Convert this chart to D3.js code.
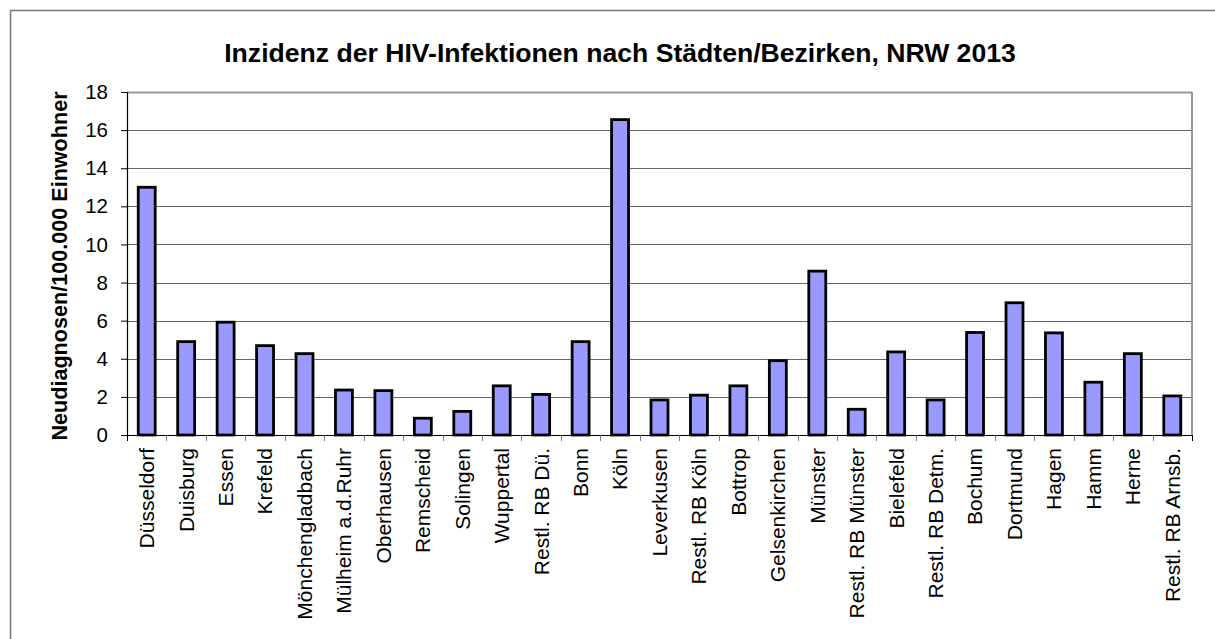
<!DOCTYPE html>
<html>
<head>
<meta charset="utf-8">
<script src="https://cdn.jsdelivr.net/npm/d3@7"></script>
<style>
  body { margin: 0; background: #fff; }
  svg { display: block; font-family: "Liberation Sans", Arial, sans-serif; }
</style>
</head>
<body>
<div id="chart"></div>
<script>
const cities = ["Düsseldorf", "Duisburg", "Essen", "Krefeld", "Mönchengladbach", "Mülheim a.d.Ruhr",
  "Oberhausen", "Remscheid", "Solingen", "Wuppertal", "Restl. RB Dü.", "Bonn", "Köln", "Leverkusen",
  "Restl. RB Köln", "Bottrop", "Gelsenkirchen", "Münster", "Restl. RB Münster", "Bielefeld",
  "Restl. RB Detm.", "Bochum", "Dortmund", "Hagen", "Hamm", "Herne", "Restl. RB Arnsb."];
const incidence = [13.0, 4.9, 5.92, 4.69, 4.27, 2.36, 2.33, 0.88, 1.24, 2.58, 2.13, 4.9, 16.55, 1.84,
  2.09, 2.58, 3.9, 8.6, 1.35, 4.36, 1.84, 5.38, 6.94, 5.36, 2.77, 4.27, 2.05];
const yTicks = [0, 2, 4, 6, 8, 10, 12, 14, 16, 18];

const width = 1215, height = 639;
const margin = {top: 92, left: 127, right: 23, bottom: 204};
const plotW = width - margin.left - margin.right;
const plotH = height - margin.top - margin.bottom;

const svg = d3.select("#chart").append("svg")
  .attr("width", width)
  .attr("height", height);

// äußerer Rahmen
svg.append("rect")
  .attr("x", 10.5).attr("y", 10.5)
  .attr("width", width).attr("height", height)
  .attr("fill", "none").attr("stroke", "#777").attr("stroke-width", 1.5);

const x = d3.scaleBand().domain(cities).range([0, plotW]).paddingInner(0.57).paddingOuter(0.285);
const y = d3.scaleLinear().domain([0, 18]).range([plotH, 0]);

const g = svg.append("g").attr("transform", `translate(${margin.left},${margin.top})`);

// Gitternetzlinien
g.selectAll("line.grid")
  .data(yTicks.filter(d => d > 0))
  .enter().append("line")
  .attr("class", "grid")
  .attr("x1", 0).attr("x2", plotW)
  .attr("y1", d => Math.round(y(d)) + 0.5).attr("y2", d => Math.round(y(d)) + 0.5)
  .attr("stroke", d => d === 18 ? "#999" : "#666")
  .attr("stroke-width", d => d === 18 ? 2 : 1);

// rechter Rand der Zeichenfläche
g.append("line")
  .attr("x1", plotW).attr("x2", plotW)
  .attr("y1", 0).attr("y2", plotH)
  .attr("stroke", "#999").attr("stroke-width", 2);

// Balken
g.selectAll("rect.bar")
  .data(incidence)
  .enter().append("rect")
  .attr("class", "bar")
  .attr("x", (d, i) => x(cities[i]))
  .attr("y", d => y(d))
  .attr("width", x.bandwidth())
  .attr("height", d => plotH - y(d))
  .attr("fill", "#9999ff")
  .attr("stroke", "#000")
  .attr("stroke-width", 2.8);

// y-Achse
const yAxis = g.append("g")
  .call(d3.axisLeft(y).tickValues(yTicks).tickSize(6).tickPadding(13).tickFormat(d3.format("d")));
yAxis.select(".domain").attr("stroke", "#000").attr("stroke-width", 1.2);
yAxis.selectAll(".tick line").attr("stroke", "#000");
yAxis.selectAll("text").attr("font-size", "20.5px").attr("fill", "#000")
  .attr("font-family", "Liberation Sans, Arial, sans-serif");

// x-Achse: Striche an den Kategoriegrenzen
const step = x.step();
const xg = g.append("g").attr("transform", `translate(0,${plotH})`);
xg.append("line").attr("x1", 0).attr("x2", plotW).attr("y1", 0.5).attr("y2", 0.5)
  .attr("stroke", "#000").attr("stroke-width", 1.2);
xg.selectAll("line.tick")
  .data(d3.range(cities.length + 1))
  .enter().append("line")
  .attr("class", "tick")
  .attr("x1", i => Math.round(i * step) + 0.5).attr("x2", i => Math.round(i * step) + 0.5)
  .attr("y1", 0).attr("y2", 6)
  .attr("stroke", i => (i === 0 || i === cities.length) ? "#000" : "#777");

xg.selectAll("text.cat")
  .data(cities)
  .enter().append("text")
  .attr("class", "cat")
  .attr("transform", d => `translate(${x(d) + x.bandwidth() / 2},13) rotate(-90)`)
  .attr("dy", "0.35em")
  .attr("text-anchor", "end")
  .attr("font-size", "21px")
  .text(d => d);

// Titel
svg.append("text")
  .attr("x", 620).attr("y", 62)
  .attr("text-anchor", "middle")
  .attr("font-size", "26.6px")
  .attr("font-weight", "bold")
  .text("Inzidenz der HIV-Infektionen nach Städten/Bezirken, NRW 2013");

// y-Achsentitel
svg.append("text")
  .attr("transform", "translate(67,266) rotate(-90)")
  .attr("text-anchor", "middle")
  .attr("font-size", "21.6px")
  .attr("font-weight", "bold")
  .text("Neudiagnosen/100.000 Einwohner");
</script>
</body>
</html>
